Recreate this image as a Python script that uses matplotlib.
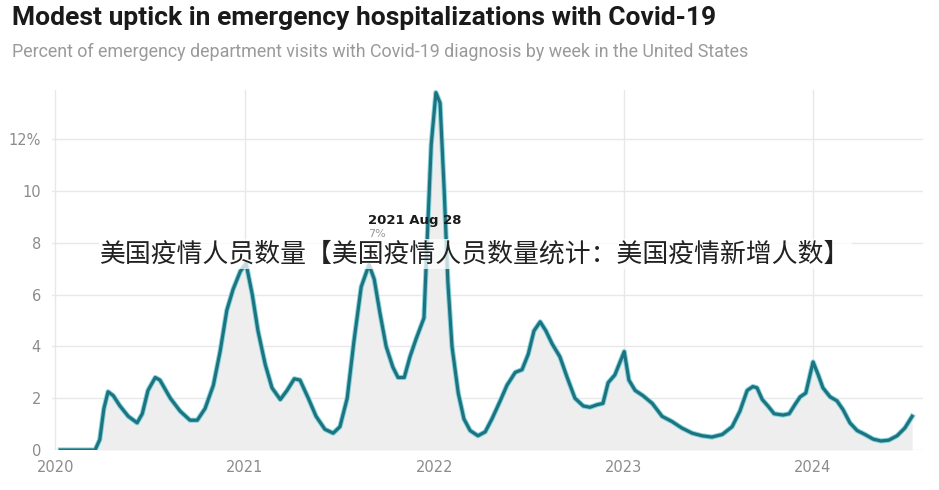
import matplotlib
matplotlib.use("Agg")
import matplotlib.pyplot as plt
import matplotlib.patheffects as pe
import pandas as pd

# Weekly share of ED visits with Covid-19 diagnosis
dates = [
    "2020-01-11", "2020-03-18", "2020-03-27", "2020-04-04", "2020-04-12", "2020-04-22",
    "2020-05-05", "2020-05-21", "2020-06-07", "2020-06-17", "2020-06-28", "2020-07-12",
    "2020-07-21", "2020-08-10", "2020-08-29", "2020-09-17", "2020-10-01", "2020-10-16",
    "2020-11-01", "2020-11-14", "2020-11-27", "2020-12-09", "2020-12-23", "2021-01-03",
    "2021-01-15", "2021-01-26", "2021-02-09", "2021-02-22", "2021-03-10", "2021-03-23",
    "2021-04-06", "2021-04-17", "2021-05-03", "2021-05-18", "2021-06-04", "2021-06-20",
    "2021-07-03", "2021-07-17", "2021-07-30", "2021-08-13", "2021-08-28", "2021-09-07",
    "2021-09-18", "2021-09-30", "2021-10-13", "2021-10-23", "2021-11-04", "2021-11-15",
    "2021-11-27", "2021-12-12", "2021-12-19", "2021-12-26", "2022-01-04", "2022-01-12",
    "2022-01-20", "2022-01-27", "2022-02-04", "2022-02-16", "2022-02-27", "2022-03-11",
    "2022-03-26", "2022-04-09", "2022-04-22", "2022-05-08", "2022-05-21", "2022-06-06",
    "2022-06-19", "2022-07-01", "2022-07-12", "2022-07-24", "2022-08-04", "2022-08-16",
    "2022-08-31", "2022-09-14", "2022-09-29", "2022-10-15", "2022-10-28", "2022-11-11",
    "2022-11-22", "2022-12-02", "2022-12-15", "2022-12-23", "2023-01-02", "2023-01-11",
    "2023-01-23", "2023-02-07", "2023-02-25", "2023-03-16", "2023-04-04", "2023-04-23",
    "2023-05-13", "2023-06-01", "2023-06-20", "2023-07-10", "2023-07-29", "2023-08-13",
    "2023-08-27", "2023-09-07", "2023-09-15", "2023-09-25", "2023-10-06", "2023-10-18",
    "2023-11-04", "2023-11-16", "2023-11-27", "2023-12-07", "2023-12-18", "2024-01-01",
    "2024-01-11", "2024-01-20", "2024-02-03", "2024-02-16", "2024-02-28", "2024-03-12",
    "2024-03-26", "2024-04-10", "2024-04-26", "2024-05-11", "2024-05-26", "2024-06-11",
    "2024-06-26", "2024-07-10",
]
values = [
    0.0, 0.0, 0.4, 1.6, 2.25, 2.1,
    1.7, 1.3, 1.05, 1.4, 2.3, 2.8,
    2.7, 2.0, 1.5, 1.15, 1.15, 1.6,
    2.5, 3.8, 5.4, 6.2, 6.9, 7.2,
    6.0, 4.6, 3.3, 2.4, 1.95, 2.3,
    2.75, 2.7, 2.0, 1.3, 0.8, 0.65,
    0.9, 2.0, 4.2, 6.3, 7.15, 6.6,
    5.3, 4.0, 3.2, 2.8, 2.8, 3.6,
    4.3, 5.1, 8.5, 11.8, 13.8, 13.4,
    10.0, 6.5, 4.0, 2.2, 1.2, 0.75,
    0.55, 0.7, 1.2, 1.9, 2.5, 3.0,
    3.1, 3.7, 4.6, 4.95, 4.6, 4.1,
    3.6, 2.8, 2.0, 1.7, 1.65, 1.75,
    1.8, 2.6, 2.9, 3.3, 3.8, 2.7,
    2.3, 2.1, 1.8, 1.3, 1.1, 0.85,
    0.65, 0.55, 0.5, 0.6, 0.9, 1.5,
    2.3, 2.45, 2.4, 1.95, 1.7, 1.4,
    1.35, 1.4, 1.75, 2.05, 2.2, 3.4,
    2.9, 2.4, 2.05, 1.9, 1.55, 1.05,
    0.75, 0.6, 0.42, 0.35, 0.38, 0.55,
    0.85, 1.3,
]
year_ticks = ["2020-01-01", "2021-01-01", "2022-01-01", "2023-01-01", "2024-01-01"]
year_labels = ["2020", "2021", "2022", "2023", "2024"]
y_ticks = [0, 2, 4, 6, 8, 10, 12]
y_labels = ["0", "2", "4", "6", "8", "10", "12%"]

callout_date = "2021-08-28"
callout_value = 7.15

TITLE = "Modest uptick in emergency hospitalizations with Covid-19"
SUBTITLE = "Percent of emergency department visits with Covid-19 diagnosis by week in the United States"
WATERMARK = "美国疫情人员数量【美国疫情人员数量统计：美国疫情新增人数】"

LINE = "#1d7480"
GRID = "#e8e8e8"
TICK = "#8c8c8c"


def main():
    x = pd.to_datetime(dates)
    fig = plt.figure(figsize=(9.39, 4.90), dpi=100)
    ax = fig.add_axes([0.0554, 0.0816, 0.9276, 0.7347])

    ax.fill_between(x, 0, values, color="#eeeeee", linewidth=0, zorder=1)
    ax.plot(x, values, color=LINE, linewidth=2.3, solid_joinstyle="round", zorder=3,
            path_effects=[pe.Stroke(linewidth=3.7, foreground="#86d4dc"), pe.Normal()])

    ax.set_xlim(pd.Timestamp("2019-12-26"), pd.Timestamp("2024-07-31"))
    ax.set_ylim(0, 13.9)
    ax.set_xticks(pd.to_datetime(year_ticks))
    ax.set_xticklabels(year_labels)
    ax.set_yticks(y_ticks)
    ax.set_yticklabels(y_labels)
    ax.grid(True, color=GRID, linewidth=1.0, zorder=0)
    ax.set_axisbelow(True)
    for s in ax.spines.values():
        s.set_visible(False)
    ax.tick_params(length=0, colors=TICK, labelsize=10.5)
    ax.tick_params(axis="y", pad=8)
    ax.tick_params(axis="x", pad=7)

    # hover tooltip
    cx = pd.Timestamp(callout_date)
    ax.annotate("2021 Aug 28", xy=(cx, callout_value), xytext=(-1, 32),
                textcoords="offset points", ha="left", va="center",
                fontsize=9.5, fontweight="bold", color="#1a1a1a", zorder=6)
    ax.annotate("7%", xy=(cx, callout_value), xytext=(-1, 22),
                textcoords="offset points", ha="left", va="center",
                fontsize=8, color="#9a9a9a", zorder=6)

    fig.text(0.0128, 1 - 18 / 490, TITLE, fontsize=19, fontweight="bold",
             color="#1a1a1a", va="center", ha="left", family="Roboto")
    fig.text(0.0128, 1 - 52 / 490, SUBTITLE, fontsize=12.9, color="#9a9a9a",
             va="center", ha="left", family="Roboto")

    fig.text(100 / 939, 1 - 254 / 490, WATERMARK, fontsize=18.6, color="#222222",
             va="center", ha="left", family=["Noto Sans CJK SC", "DejaVu Sans"],
             fontweight="light", zorder=10,
             bbox=dict(facecolor="white", alpha=0.75, edgecolor="none", pad=1))

    fig.savefig("out.png", dpi=100)


if __name__ == "__main__":
    main()
